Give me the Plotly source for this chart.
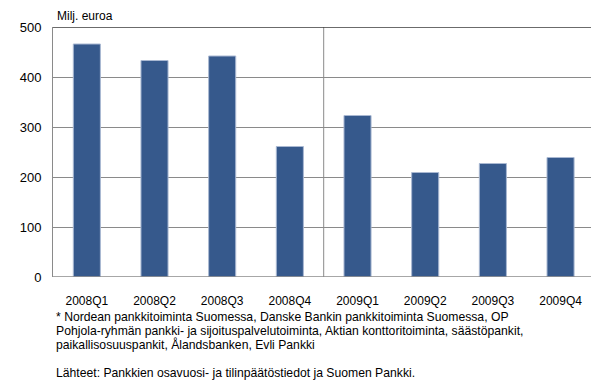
import plotly.graph_objects as go

quarters = ["2008Q1", "2008Q2", "2008Q3", "2008Q4", "2009Q1", "2009Q2", "2009Q3", "2009Q4"]
values = [466, 433, 442, 261, 323, 209, 227, 239]
y_ticks = [0, 100, 200, 300, 400, 500]
unit_label = "Milj. euroa"
footnote_lines = [
    "* Nordean pankkitoiminta Suomessa, Danske Bankin pankkitoiminta Suomessa, OP",
    "Pohjola-ryhmän pankki- ja sijoituspalvelutoiminta, Aktian konttoritoiminta, säästöpankit,",
    "paikallisosuuspankit, Ålandsbanken, Evli Pankki",
]
source_line = "Lähteet: Pankkien osavuosi- ja tilinpäätöstiedot ja Suomen Pankki."

FONT = "Liberation Sans, Arial, sans-serif"

fig = go.Figure()
fig.add_trace(go.Bar(
    x=list(range(len(quarters))),
    y=values,
    marker=dict(color="#36598c", line=dict(color="#a9b8d2", width=1)),
    width=0.4,
))

fig.update_layout(
    width=591, height=381,
    margin=dict(l=53, r=0, t=27, b=104),
    paper_bgcolor="white", plot_bgcolor="white",
    showlegend=False,
    font=dict(family=FONT, color="black", size=12),
    xaxis=dict(
        range=[-0.5, 7.45],
        tickmode="array",
        tickvals=list(range(len(quarters))),
        ticktext=quarters,
        showgrid=False,
        showline=False,
        zeroline=False,
        ticks="",
        ticklabelstandoff=15,
        tickfont=dict(size=12, family=FONT),
    ),
    yaxis=dict(
        range=[0, 500],
        tickmode="array",
        tickvals=y_ticks,
        ticktext=[str(v) for v in y_ticks],
        showgrid=True,
        gridcolor="#8a8a8a",
        gridwidth=1,
        zeroline=False,
        showline=True,
        linecolor="#8a8a8a",
        linewidth=1,
        ticks="",
        ticklabelstandoff=8,
        tickfont=dict(size=13, family=FONT),
    ),
    shapes=[
        dict(type="line", xref="x", yref="paper", x0=3.5, x1=3.5, y0=0, y1=1,
             line=dict(color="#8a8a8a", width=1)),
        dict(type="line", xref="paper", yref="y", x0=0, x1=1, y0=500, y1=500,
             line=dict(color="#3a3a3a", width=1.5)),
        dict(type="line", xref="paper", yref="y", x0=0, x1=1, y0=0, y1=0,
             line=dict(color="#8a8a8a", width=1.5)),
    ],
)

plot_h = 381 - 104 - 27


def py(pix):
    return (381 - 104 - pix) / plot_h


annotations = [
    dict(text=unit_label, xref="paper", yref="paper", x=0.003, y=1.0, yshift=2,
         xanchor="left", yanchor="bottom", showarrow=False,
         font=dict(size=12, family=FONT)),
]
line_y = [316.5, 330.5, 344.5]
for txt, yy in zip(footnote_lines, line_y):
    annotations.append(dict(text=txt, xref="paper", yref="paper",
                            x=1 / 538, y=py(yy),
                            xanchor="left", yanchor="middle", showarrow=False,
                            font=dict(size=12.2, family=FONT)))
annotations.append(dict(text=source_line, xref="paper", yref="paper",
                        x=1 / 538, y=py(373),
                        xanchor="left", yanchor="middle", showarrow=False,
                        font=dict(size=12.2, family=FONT)))
fig.update_layout(annotations=annotations)

fig.write_html("out.html")
